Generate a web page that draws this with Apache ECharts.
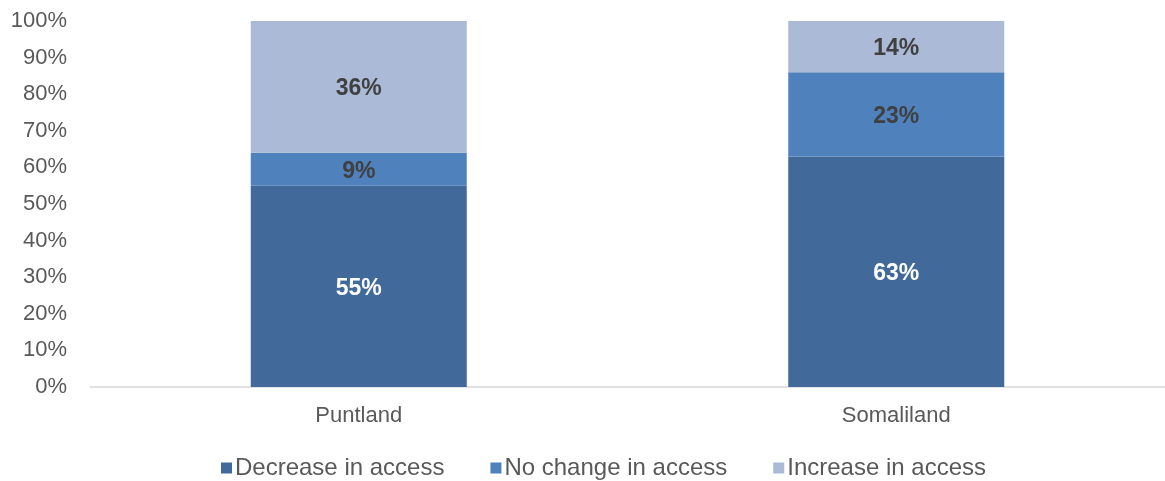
<!DOCTYPE html>
<html>
<head>
<meta charset="utf-8">
<script src="https://cdn.jsdelivr.net/npm/echarts@6/dist/echarts.min.js"></script>
<style>
  html, body { margin: 0; padding: 0; background: #ffffff; }
  #chart { width: 1165px; height: 481px; }
</style>
</head>
<body>
<div id="chart"></div>
<script>
// Regions on the category axis
const regions = ['Puntland', 'Somaliland'];

// Share of respondents (%) per change in access
const decreaseInAccess = [55, 63];
const noChangeInAccess = [9, 23];
const increaseInAccess = [36, 14];

const seriesNames = ['Decrease in access', 'No change in access', 'Increase in access'];
const seriesColors = ['#416a9b', '#4f81bd', '#aabad7'];
const labelColors = ['#ffffff', '#404040', '#404040'];

const chart = echarts.init(document.getElementById('chart'));

const seriesData = [decreaseInAccess, noChangeInAccess, increaseInAccess];

chart.setOption({
  animation: false,
  textStyle: { fontFamily: 'Liberation Sans, Arial, sans-serif' },
  grid: { left: 90, width: 1080, top: 21, bottom: 94, containLabel: false },
  legend: {
    data: seriesNames,
    top: 451,
    left: 216,
    icon: 'rect',
    itemWidth: 11,
    itemHeight: 11,
    itemGap: 46,
    textStyle: { color: '#595959', fontSize: 24, padding: [0, 0, 0, -2] }
  },
  xAxis: {
    type: 'category',
    data: regions,
    axisTick: { show: false },
    axisLine: { lineStyle: { color: '#d9d9d9', width: 1.5 } },
    axisLabel: { color: '#595959', fontSize: 22, margin: 18 }
  },
  yAxis: {
    type: 'value',
    min: 0,
    max: 100,
    interval: 10,
    axisLine: { show: false },
    axisTick: { show: false },
    splitLine: { show: false },
    axisLabel: { color: '#595959', fontSize: 22, margin: 23, formatter: '{value}%' }
  },
  series: seriesNames.map((name, i) => ({
    name: name,
    type: 'bar',
    stack: 'total',
    barWidth: 216,
    data: seriesData[i],
    itemStyle: { color: seriesColors[i] },
    label: {
      show: true,
      position: 'inside',
      offset: [0, 2],
      formatter: '{c}%',
      color: labelColors[i],
      fontSize: 23,
      fontWeight: 'bold'
    }
  }))
});
</script>
</body>
</html>
